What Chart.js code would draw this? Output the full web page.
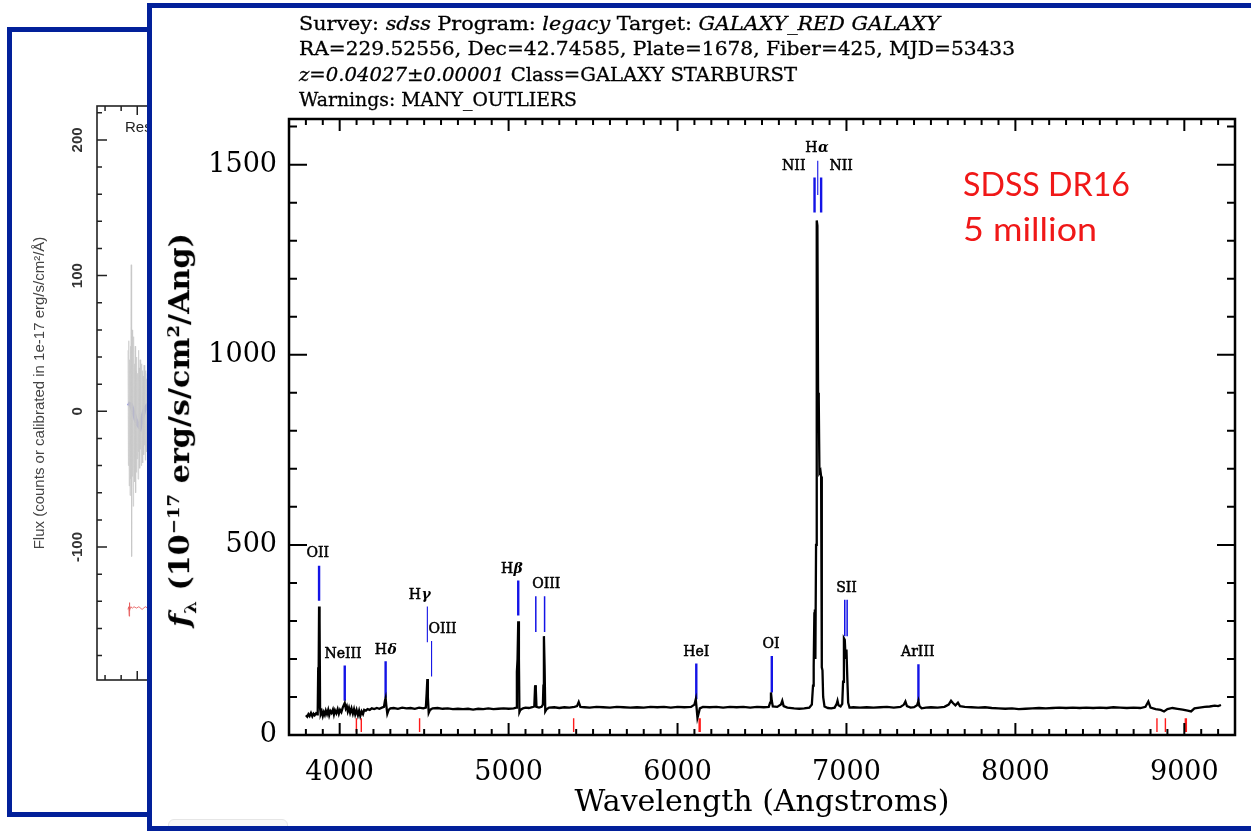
<!DOCTYPE html>
<html><head><meta charset="utf-8">
<script src="https://cdn.jsdelivr.net/npm/chart.js@4.4.1/dist/chart.umd.min.js"></script>
<style>
html,body{margin:0;padding:0;background:#fff;width:1251px;height:832px;overflow:hidden;}
#back{position:absolute;left:7px;top:27px;width:600px;height:780px;border:5px solid #02209a;background:#fff;z-index:1;overflow:hidden;}
#backCanvas{position:absolute;left:0;top:0;}
#backNote{position:absolute;left:113px;top:86px;font:15px 'Liberation Sans',sans-serif;color:#222;white-space:nowrap;}
#front{position:absolute;left:147px;top:3px;width:1150px;height:818px;border:5px solid #02209a;background:#fff;z-index:2;overflow:hidden;}
#tab{position:absolute;left:16px;top:811px;width:118px;height:14px;border:1px solid #e6e6e6;border-radius:6px;background:#f8f8f8;}
#mainCanvas{position:absolute;left:0;top:0;z-index:3;}
#hdr{position:absolute;left:299px;top:11px;font:18px 'DejaVu Serif',serif;line-height:25.4px;color:#000;z-index:4;white-space:nowrap;-webkit-text-stroke:0.3px #000;}
#hdr span{display:inline-block;transform-origin:0 50%;}
#ytitle{position:absolute;left:182px;top:430px;font:bold 28px 'DejaVu Serif',serif;white-space:nowrap;line-height:1;z-index:4;color:#000;}
#ytitle sub,#ytitle sup{font-size:0.6em;}
#dr{position:absolute;left:963px;top:161px;font:32px Lato,'Open Sans',sans-serif;color:#f01818;line-height:45px;z-index:4;white-space:nowrap;}
#dr span{display:inline-block;transform-origin:0 50%;}
</style></head>
<body>
<div id="back"><canvas id="backCanvas" width="590" height="780"></canvas><div id="backNote">Rest frame spectrum</div></div>
<div id="front"><div id="tab"></div></div>
<canvas id="mainCanvas" width="1251" height="832"></canvas>
<div id="hdr">
<div><span data-w="641">Survey: <i>sdss</i> Program: <i>legacy</i> Target: <i>GALAXY_RED GALAXY</i></span></div>
<div><span data-w="716">RA=229.52556, Dec=42.74585, Plate=1678, Fiber=425, MJD=53433</span></div>
<div><span data-w="498"><i>z=0.04027±0.00001</i> Class=GALAXY STARBURST</span></div>
<div><span data-w="278">Warnings: MANY_OUTLIERS</span></div>
</div>
<div id="ytitle" data-w="394"><i>f</i><sub>λ</sub> (10<sup>−17</sup> erg/s/cm<sup>2</sup>/Ang)</div>
<div id="dr"><div><span data-w="167">SDSS DR16</span></div><div><span data-w="134">5 million</span></div></div>
<script>
// ================= DATA =================
// Observed-frame spectrum (wavelength in Angstroms, flux in 1e-17 erg/s/cm^2/Ang)
const specWave = [3800,3808,3815,3822,3830,3838,3845,3852,3860,3866,3870,3873,3875,3878,3881,3884,3888,3894,3900,3906,3912,3918,3925,3932,3938,3945,3952,3960,3966,3972,3980,3988,3995,4002,4010,4018,4024,4030,4036,4042,4048,4055,4062,4070,4078,4085,4092,4100,4108,4115,4122,4130,4138,4145,4155,4165,4178,4190,4205,4220,4235,4250,4262,4268,4272,4276,4282,4290,4300,4320,4345,4370,4395,4420,4445,4470,4495,4510,4515,4519,4522,4527,4535,4550,4580,4610,4640,4670,4700,4730,4760,4790,4820,4850,4880,4910,4940,4970,5000,5030,5045,5049,5053,5057,5061,5064,5070,5085,5100,5120,5140,5152,5157,5161,5165,5180,5195,5203,5206,5209,5213,5217,5225,5240,5270,5300,5330,5360,5390,5405,5415,5425,5450,5480,5520,5560,5600,5640,5680,5720,5760,5800,5840,5880,5920,5960,6000,6040,6080,6100,6108,6113,6118,6124,6132,6150,6190,6230,6270,6310,6350,6390,6430,6470,6510,6540,6548,6553,6558,6564,6590,6612,6620,6628,6650,6690,6720,6750,6780,6795,6802,6806,6810,6813,6816,6820,6824,6828,6832,6836,6840,6846,6850,6854,6858,6862,6870,6890,6910,6930,6942,6947,6953,6965,6975,6980,6985,6990,6995,7000,7005,7010,7018,7040,7080,7120,7160,7200,7240,7280,7320,7340,7349,7358,7380,7400,7418,7426,7432,7445,7470,7500,7540,7580,7605,7619,7630,7645,7660,7672,7700,7740,7780,7820,7860,7900,7940,7980,8020,8060,8100,8140,8180,8220,8260,8300,8340,8380,8420,8460,8500,8540,8580,8620,8660,8700,8740,8770,8787,8800,8830,8860,8880,8900,8930,8960,8990,9020,9040,9060,9090,9120,9150,9180,9200,9217];
const specFlux = [52,48,55,50,58,49,56,52,57,54,62,178,120,338,300,70,55,62,50,60,53,64,55,66,52,63,58,67,54,65,57,68,56,66,60,72,78,84,70,76,62,72,58,70,56,68,54,66,52,64,50,62,55,66,64,68,66,70,68,71,69,72,74,90,97,78,56,66,70,71,69,72,70,71,69,72,70,72,110,147,100,58,66,70,71,69,70,68,69,68,69,67,69,68,70,68,69,70,69,70,72,166,200,299,200,60,66,70,72,71,73,75,131,120,74,72,74,80,130,260,180,62,68,72,73,71,73,72,74,76,87,74,73,72,74,73,72,74,73,72,73,72,74,73,74,72,74,73,74,80,94,70,45,55,70,74,73,74,72,74,73,74,72,74,73,74,85,112,90,75,74,80,90,76,72,70,69,70,72,80,130,180,320,330,200,500,1353,1340,900,880,690,695,680,178,170,100,75,71,70,72,82,90,78,75,82,140,254,250,200,225,150,85,72,73,72,73,72,73,74,72,74,80,88,76,72,73,78,90,76,70,72,73,72,74,80,90,84,78,85,76,74,73,72,73,71,70,69,70,68,69,70,71,70,71,72,71,72,71,72,71,72,71,73,72,71,72,71,74,88,72,68,66,62,68,71,69,67,64,62,70,72,74,75,77,76,79];
// Masked / bad pixel marks (red) at the bottom
const badPixelWave = [4099,4128,4473,5385,6128,6134,8838,8888,9006,9012];
const badPixelLow = 8, badPixelHigh = 44;
// Identified emission-line markers (blue)
const markName = ['OII','NeIII','Hδ','Hγ','OIII4363','Hβ','OIII4959','OIII5007','HeI','OI','NII6548','Hα','NII6583','SII6716','SII6731','ArIII'];
const markWave = [3878,4030,4272,4519,4544,5057,5161,5213,6111,6558,6811,6830,6850,6990,7004,7426];
const markLow  = [353,90,98,244,154,314,271,271,94,112,1374,1420,1374,260,260,90];
const markHigh = [445,183,194,338,247,406,365,365,188,208,1466,1510,1466,356,356,186];
// Line label texts and their anchor (wavelength, flux)
const lineLabelText = ['OII','NeIII','Hδ','Hγ','OIII','Hβ','OIII','HeI','OI','NII','Hα','NII','SII','ArIII'];
const lineLabelWave = [3870,4020,4272,4473,4609,5018,5223,6111,6554,6688,6824,6968,7000,7422];
const lineLabelFlux = [479,212,223,366,277,435,395,218,238,1495,1543,1495,385,217];
// Axis ticks
const xTickLabels = [4000,5000,6000,7000,8000,9000];
const yTickLabels = [0,500,1000,1500];
const xTitle = 'Wavelength (Angstroms)';
// Background (partly hidden) panel data
const backGrayWave = [3885,3890,3895,3900,3905,3910,3915,3920,3925,3930,3935,3940,3945,3950,3955,3960,3965,3970,3975,3980,3985,3990,3995,4000,4005,4010,4015,4020,4025,4030,4035,4040,4045,4050,4055,4060,4065,4070,4075,4080,4085,4090,4095,4100,4105,4110,4115,4120,4125,4130];
const backGrayFlux = [45,-40,52,-55,38,-62,48,-50,108,-107,60,-48,42,-70,55,-38,35,-52,48,-60,30,-45,40,-35,28,-50,45,-30,32,-42,38,-28,25,-40,35,-30,30,-38,26,-32,34,-25,22,-36,30,-28,24,-30,28,-22];
const backBlueWave = [3885,3920,3950,3980,4010,4035,4060,4090,4120,4150];
const backBlueFlux = [6,5,0,-6,-10,-12,-5,1,4,3];
const backRedWave = [3885,3895,3900,3903,3906,3910,3920,3940,3960,3990,4020,4060,4100,4130];
const backRedFlux = [-146,-144,-151,-141,-147,-145,-144,-145,-144,-145,-144,-146,-144,-145];
const backYTicks = [-100,0,100,200];
const backYTitle = 'Flux (counts or calibrated in 1e-17 erg/s/cm²/Å)';

// ================= STYLE / HELPERS =================
const SERIF = "'DejaVu Serif', serif";
const BLUE = '#1414e6';
const thinMarks = ['Hγ','OIII4363','Hα'];
const midMarks = ['OIII4959','OIII5007','SII6716','SII6731'];

function pts(xs, ys){ return xs.map((x,i)=>({x:x, y:ys[i]})); }
function segs(idx){ const out=[]; idx.forEach(i=>{ out.push({x:markWave[i],y:markLow[i]},{x:markWave[i],y:markHigh[i]},{x:markWave[i],y:null}); }); return out; }
function badSegs(){ const out=[]; badPixelWave.forEach(w=>{ out.push({x:w,y:badPixelLow},{x:w,y:badPixelHigh},{x:w,y:null}); }); return out; }

function makeFrame(o){
  return {
    id:'frame_'+o.name,
    afterDatasetsDraw(chart){
      const {ctx, chartArea:a, scales:{x,y}} = chart;
      ctx.save();
      ctx.strokeStyle = o.color; ctx.lineCap='butt';
      ctx.lineWidth = o.tickWidth;
      ctx.beginPath();
      for (let v=Math.ceil(x.min/o.xStep)*o.xStep; v<=x.max; v+=o.xStep){
        const px = x.getPixelForValue(v);
        if (px < a.left+2 || px > a.right-2) continue;
        const len = (v % o.xMajor === 0) ? o.xMajLen : o.xMinLen;
        ctx.moveTo(px, a.bottom); ctx.lineTo(px, a.bottom-len);
        ctx.moveTo(px, a.top); ctx.lineTo(px, a.top+len);
      }
      for (let v=Math.ceil(y.min/o.yStep)*o.yStep; v<=y.max; v+=o.yStep){
        const py = y.getPixelForValue(v);
        if (py < a.top+2 || py > a.bottom-2) continue;
        const len = (Math.abs(v) % o.yMajor === 0) ? o.yMajLen : o.yMinLen;
        ctx.moveTo(a.left, py); ctx.lineTo(a.left+len, py);
        ctx.moveTo(a.right, py); ctx.lineTo(a.right-len, py);
      }
      ctx.stroke();
      ctx.lineWidth = o.frameWidth;
      ctx.strokeRect(a.left, a.top, a.right-a.left, a.bottom-a.top);
      ctx.restore();
    }
  };
}

const lineLabelPlugin = {
  id:'lineLabels',
  afterDatasetsDraw(chart){
    const {ctx, scales:{x,y}} = chart;
    const F = "14px " + SERIF, FI = "italic bold 14px " + SERIF;
    ctx.save();
    ctx.fillStyle = '#000'; ctx.strokeStyle = '#000'; ctx.lineWidth = 0.5; ctx.textBaseline = 'middle';
    lineLabelText.forEach((t,i)=>{
      const px = x.getPixelForValue(lineLabelWave[i]), py = y.getPixelForValue(lineLabelFlux[i]);
      const m = t.match(/^H([αβγδ])$/);
      if (m){
        ctx.font = F; const w1 = ctx.measureText('H').width;
        ctx.font = FI; const w2 = ctx.measureText(m[1]).width;
        const sx = px - (w1+w2)/2;
        ctx.textAlign = 'left';
        ctx.font = F; ctx.fillText('H', sx, py); ctx.strokeText('H', sx, py);
        ctx.font = FI; ctx.fillText(m[1], sx+w1+0.5, py);
      } else {
        ctx.font = F; ctx.textAlign = 'center'; ctx.fillText(t, px, py); ctx.strokeText(t, px, py);
      }
    });
    ctx.restore();
  }
};

const idxThick = [], idxMid = [], idxThin = [];
markName.forEach((n,i)=>{ if (thinMarks.includes(n)) idxThin.push(i); else if (midMarks.includes(n)) idxMid.push(i); else idxThick.push(i); });

// ================= MAIN CHART =================
new Chart(document.getElementById('mainCanvas'), {
  type:'line',
  data:{ datasets:[
    {data: pts(specWave, specFlux), borderColor:'#000', borderWidth:2.3, pointRadius:0, tension:0},
    {data: badSegs(), borderColor:'#ff1a1a', borderWidth:1.4, pointRadius:0, spanGaps:false},
    {data: segs(idxThick), borderColor:BLUE, borderWidth:2.4, pointRadius:0, spanGaps:false},
    {data: segs(idxMid), borderColor:BLUE, borderWidth:1.5, pointRadius:0, spanGaps:false},
    {data: segs(idxThin), borderColor:BLUE, borderWidth:1.1, pointRadius:0, spanGaps:false}
  ]},
  options:{
    responsive:false, animation:false, events:[],
    layout:{padding:{left:150, right:16, top:119, bottom:0}},
    plugins:{legend:{display:false}, tooltip:{enabled:false}, title:{display:false}},
    scales:{
      x:{type:'linear', min:3700, max:9300,
        grid:{display:false, drawTicks:false}, border:{display:false},
        afterBuildTicks:s=>{ s.ticks = xTickLabels.map(v=>({value:v})); },
        afterFit:s=>{ s.height = 832-735; },
        ticks:{autoSkip:false, maxRotation:0, padding:22, color:'#000', font:{family:SERIF, size:27}, callback:v=>String(v)},
        title:{display:true, text:xTitle, color:'#000', font:{family:SERIF, size:30}, padding:{top:0, bottom:11}}
      },
      y:{type:'linear', min:0, max:1620,
        grid:{display:false, drawTicks:false}, border:{display:false},
        afterBuildTicks:s=>{ s.ticks = yTickLabels.map(v=>({value:v})); },
        afterFit:s=>{ s.width = 289-150; },
        ticks:{padding:12, color:'#000', font:{family:SERIF, size:27}, callback:v=>String(v)}
      }
    }
  },
  plugins:[makeFrame({name:'main', color:'#000', tickWidth:2, frameWidth:2.5, xStep:100, xMajor:1000, xMajLen:12, xMinLen:6, yStep:100, yMajor:500, yMajLen:18, yMinLen:8}), lineLabelPlugin]
});

// ================= BACKGROUND CHART =================
new Chart(document.getElementById('backCanvas'), {
  type:'line',
  data:{ datasets:[
    {data: pts(backGrayWave, backGrayFlux), borderColor:'rgba(200,200,200,0.7)', borderWidth:1, pointRadius:0},
    {data: pts(backBlueWave, backBlueFlux), borderColor:'rgba(70,70,220,0.85)', borderWidth:4, pointRadius:0},
    {data: pts(backRedWave, backRedFlux), borderColor:'rgba(230,90,90,0.85)', borderWidth:1, pointRadius:0}
  ]},
  options:{
    responsive:false, animation:false, events:[],
    layout:{padding:{left:10, right:22, top:74, bottom:0}},
    plugins:{legend:{display:false}, tooltip:{enabled:false}},
    scales:{
      x:{type:'linear', min:3500, max:9500, grid:{display:false, drawTicks:false}, border:{display:false},
        ticks:{display:false}, afterFit:s=>{ s.height = 780-648; }},
      y:{type:'linear', min:-198, max:225, grid:{display:false, drawTicks:false}, border:{display:false},
        afterBuildTicks:s=>{ s.ticks = backYTicks.map(v=>({value:v})); },
        afterFit:s=>{ s.width = 75; },
        ticks:{minRotation:90, maxRotation:90, crossAlign:'center', padding:4, color:'#333', font:{family:"'Liberation Sans', sans-serif", size:15, weight:'bold'}},
        title:{display:true, text:backYTitle, color:'#444', font:{family:"'Liberation Sans', sans-serif", size:15}, padding:{top:9, bottom:0}}
      }
    }
  },
  plugins:[makeFrame({name:'back', color:'#222', tickWidth:1.5, frameWidth:1.6, xStep:200, xMajor:1000, xMajLen:9, xMinLen:5, yStep:20, yMajor:100, yMajLen:10, yMinLen:5})]
});

// fit header / annotation lines to the reference widths
document.querySelectorAll('#hdr span, #dr span').forEach(s=>{
  const w = s.getBoundingClientRect().width, t = +s.dataset.w;
  if (w > 0) s.style.transform = 'scaleX(' + (t/w).toFixed(4) + ')';
});
// y-axis title: rotated, centred and stretched to the reference length
(function(){
  const el = document.getElementById('ytitle');
  const w = el.offsetWidth, t = +el.dataset.w;
  el.style.transform = 'translate(-50%,-50%) rotate(-90deg) scaleX(' + (t/w).toFixed(4) + ')';
})();
</script>
</body></html>
